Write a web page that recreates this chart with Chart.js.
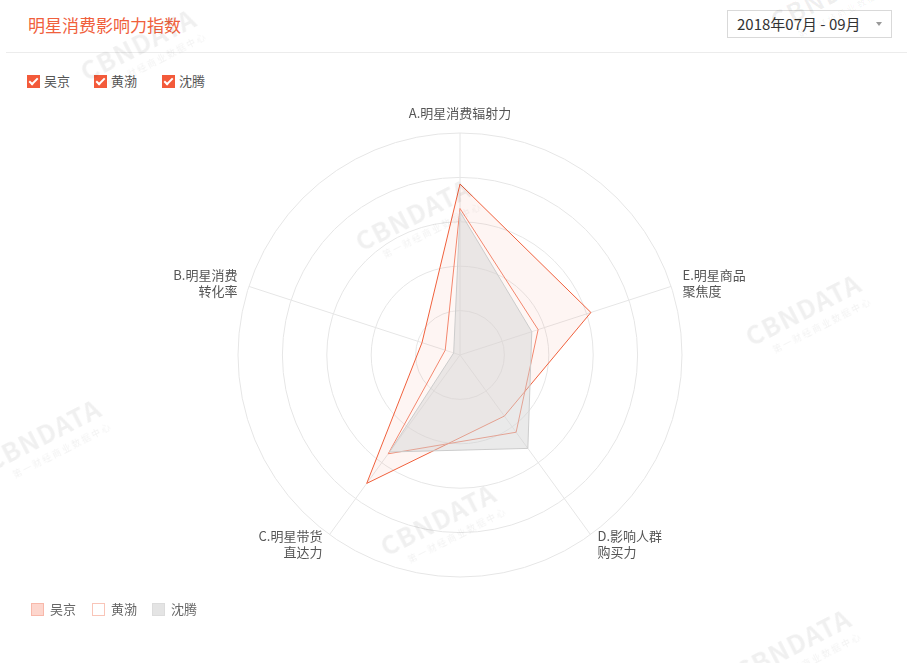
<!DOCTYPE html>
<html>
<head>
<meta charset="utf-8">
<script src="https://cdn.jsdelivr.net/npm/chart.js@4/dist/chart.umd.min.js"></script>
<style>
  body { margin: 0; width: 915px; height: 663px; background: #fff; overflow: hidden;
         font-family: "Noto Sans CJK SC", "Noto Sans", sans-serif; position: relative; }
  .title { position: absolute; left: 28px; top: 12px; font-size: 17px; color: #f0603c; }
  .sep { position: absolute; left: 6px; right: 8px; top: 52px; border-top: 1px solid #ececec; }
  .select { position: absolute; left: 727px; top: 10px; width: 165px; height: 28px; border: 1px solid #d9d9d9;
            box-sizing: border-box; font-size: 15px; color: #333; line-height: 26px; padding-left: 9px; }
  .select .caret { position: absolute; right: 9px; top: 11px; width: 0; height: 0;
                   border-left: 3px solid transparent; border-right: 3px solid transparent; border-top: 4px solid #999; }
  .checks { position: absolute; left: 27px; top: 72px; font-size: 13px; color: #555; }
  .checks span { position: absolute; white-space: nowrap; line-height: 17px; }
  .checks i { display: inline-block; width: 13px; height: 13px; background: #f35a3a; vertical-align: -2px;
              margin-right: 4px; position: relative; }
  .checks i::after { content: ""; position: absolute; left: 4px; top: 1px; width: 3px; height: 7px;
                     border: solid #fff; border-width: 0 2px 2px 0; transform: rotate(45deg); }
  .legend { position: absolute; left: 31px; top: 600px; font-size: 13px; color: #666; }
  .legend span { position: absolute; white-space: nowrap; line-height: 17px; }
  .legend i { display: inline-block; width: 13px; height: 13px; box-sizing: border-box; vertical-align: -2px; margin-right: 6px; }
  .wm { position: absolute; color: rgba(0,0,0,0.06); transform: rotate(-27deg); font-weight: bold;
        font-size: 26px; letter-spacing: 1px; line-height: 24px; white-space: nowrap; pointer-events: none; }
  .wm small { display: block; font-size: 9px; font-weight: normal; letter-spacing: 2px; margin-left: 18px; }
  #wrap { position: absolute; left: 0; top: 95px; width: 915px; height: 520px; }
</style>
</head>
<body>
<div class="title">明星消费影响力指数</div>
<div class="select">2018年07月 - 09月<span class="caret"></span></div>
<div class="sep"></div>
<div class="checks">
  <span style="left:0"><i></i>吴京</span>
  <span style="left:67px"><i></i>黄渤</span>
  <span style="left:135px"><i></i>沈腾</span>
</div>

<div id="wrap"><canvas id="radarChart"></canvas></div>

<div class="legend">
  <span style="left:0"><i style="background:#fdd6cd;border:1px solid #f8b8aa"></i>吴京</span>
  <span style="left:61px"><i style="background:#fff;border:1px solid #f9c5b8"></i>黄渤</span>
  <span style="left:121px"><i style="background:#e4e4e4;border:1px solid #dcdcdc"></i>沈腾</span>
</div>

<div class="wm" style="left:355px;top:200px">CBNDATA<small>第一财经商业数据中心</small></div>
<div class="wm" style="left:745px;top:295px">CBNDATA<small>第一财经商业数据中心</small></div>
<div class="wm" style="left:380px;top:505px">CBNDATA<small>第一财经商业数据中心</small></div>
<div class="wm" style="left:-15px;top:420px">CBNDATA<small>第一财经商业数据中心</small></div>
<div class="wm" style="left:735px;top:630px">CBNDATA<small>第一财经商业数据中心</small></div>
<div class="wm" style="left:80px;top:30px">CBNDATA<small>第一财经商业数据中心</small></div>
<div class="wm" style="left:770px;top:-20px">CBNDATA<small>第一财经商业数据中心</small></div>

<script>
// Radar axes (clockwise from top)
const axisLabels = [
    'A.明星消费辐射力',
    ['E.明星商品', '聚焦度'],
    ['D.影响人群', '购买力'],
    ['C.明星带货', '直达力'],
    ['B.明星消费', '转化率']
];
const wuJing = [77, 62, 34, 71.5, 18];
const huangBo = [66, 37, 43, 55, 7];
const shenTeng = [64.5, 34, 52, 54, 3];

// axis names drawn next to the outer ring, vertically centred like the original
const axisNamePlugin = {
    id: 'axisNames',
    afterDraw(chart) {
        const scale = chart.scales.r;
        const c = chart.ctx;
        c.save();
        c.font = '13px "Noto Sans CJK SC", sans-serif';
        c.fillStyle = '#555';
        axisLabels.forEach((lbl, i) => {
            const lines = Array.isArray(lbl) ? lbl : [lbl];
            const p = scale.getPointPosition(i, scale.drawingArea + 12);
            const dx = p.x - scale.xCenter;
            c.textAlign = Math.abs(dx) < 2 ? 'center' : (dx > 0 ? 'left' : 'right');
            c.textBaseline = 'middle';
            const lh = 16;
            let y0;
            if (i === 0) y0 = p.y - lh * lines.length + lh / 2;
            else y0 = p.y - (lines.length - 1) * lh / 2;
            lines.forEach((t, k) => c.fillText(t, p.x, y0 + k * lh));
        });
        c.restore();
    }
};

const ctx = document.getElementById('radarChart').getContext('2d');
new Chart(ctx, {
    type: 'radar',
    data: {
        labels: axisLabels,
        datasets: [
            { label: '吴京', data: wuJing, order: 3, borderColor: '#f0603c', borderWidth: 1,
              backgroundColor: 'rgba(245, 110, 80, 0.07)', pointRadius: 0 },
            { label: '黄渤', data: huangBo, order: 2, borderColor: '#f3866d', borderWidth: 1,
              backgroundColor: 'rgba(255, 255, 255, 0.2)', pointRadius: 0 },
            { label: '沈腾', data: shenTeng, order: 1, borderColor: '#cccccc', borderWidth: 1,
              backgroundColor: 'rgba(205, 205, 205, 0.42)', pointRadius: 0 }
        ]
    },
    options: {
        responsive: true,
        maintainAspectRatio: false,
        animation: false,
        layout: { padding: { top: 38, bottom: 38, left: 5, right: 0 } },
        plugins: { legend: { display: false }, tooltip: { enabled: false } },
        scales: {
            r: {
                min: 0,
                max: 100,
                ticks: { stepSize: 20, display: false },
                grid: { circular: true, color: '#e6e6e6' },
                angleLines: { color: '#e6e6e6' },
                pointLabels: { display: false }
            }
        }
    },
    plugins: [axisNamePlugin]
});
</script>
</body>
</html>
